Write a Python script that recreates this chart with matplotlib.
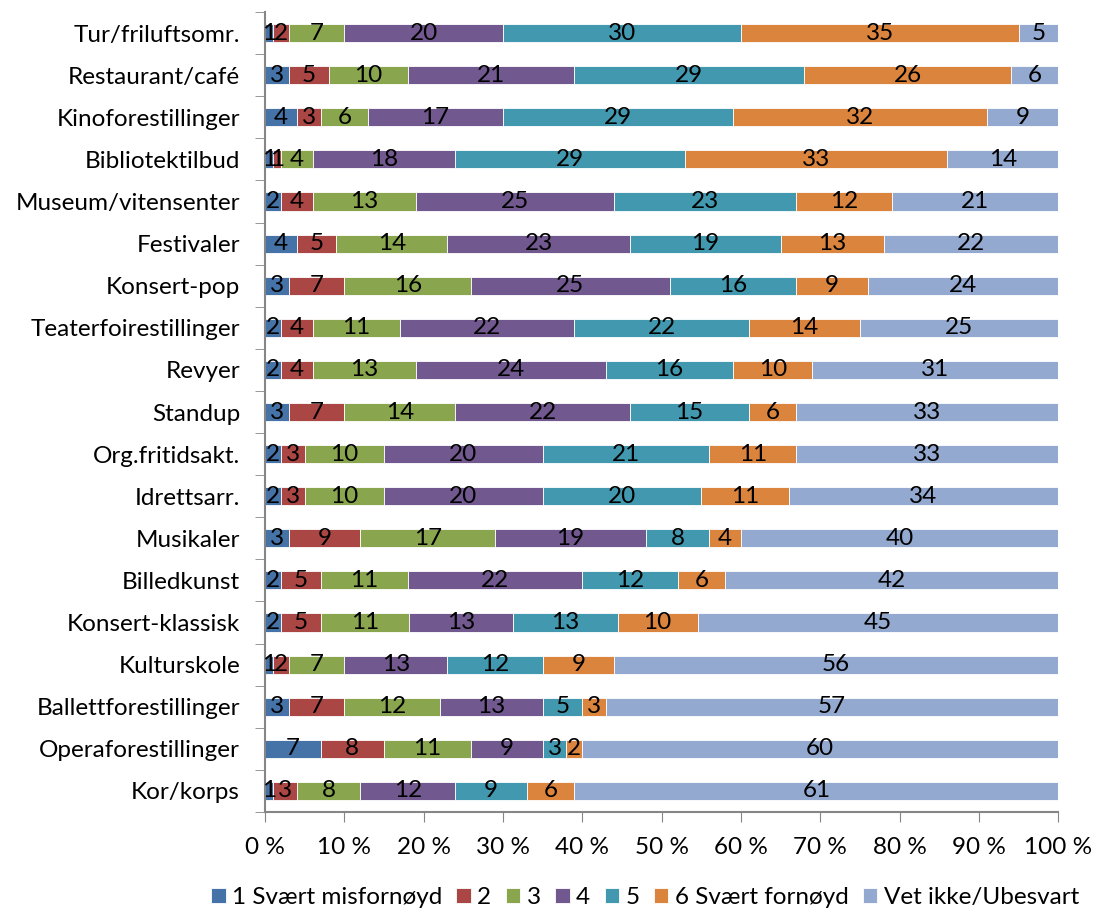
"""
    Satisfaction with cultural offers - 100 % stacked bars
"""
import numpy as np
import matplotlib.pyplot as plt

plt.rcParams['font.family'] = ['Lato', 'DejaVu Sans']

categories = [
    "Tur/friluftsomr.", "Restaurant/café", "Kinoforestillinger", "Bibliotektilbud",
    "Museum/vitensenter", "Festivaler", "Konsert-pop", "Teaterfoirestillinger",
    "Revyer", "Standup", "Org.fritidsakt.", "Idrettsarr.", "Musikaler",
    "Billedkunst", "Konsert-klassisk", "Kulturskole", "Ballettforestillinger",
    "Operaforestillinger", "Kor/korps",
]
series_names = ["1 Svært misfornøyd", "2", "3", "4", "5", "6 Svært fornøyd", "Vet ikke/Ubesvart"]

s1 = [1, 3, 4, 1, 2, 4, 3, 2, 2, 3, 2, 2, 3, 2, 2, 1, 3, 7, 1]
s2 = [2, 5, 3, 1, 4, 5, 7, 4, 4, 7, 3, 3, 9, 5, 5, 2, 7, 8, 3]
s3 = [7, 10, 6, 4, 13, 14, 16, 11, 13, 14, 10, 10, 17, 11, 11, 7, 12, 11, 8]
s4 = [20, 21, 17, 18, 25, 23, 25, 22, 24, 22, 20, 20, 19, 22, 13, 13, 13, 9, 12]
s5 = [30, 29, 29, 29, 23, 19, 16, 22, 16, 15, 21, 20, 8, 12, 13, 12, 5, 3, 9]
s6 = [35, 26, 32, 33, 12, 13, 9, 14, 10, 6, 11, 11, 4, 6, 10, 9, 3, 2, 6]
s7 = [5, 6, 9, 14, 21, 22, 24, 25, 31, 33, 33, 34, 40, 42, 45, 56, 57, 60, 61]

colors = ["#4572A7", "#AA4643", "#89A54E", "#71588F", "#4198AF", "#DB843D", "#93A9CF"]

values = np.array([s1, s2, s3, s4, s5, s6, s7], dtype=float)
shares = values / values.sum(axis=0) * 100

fig = plt.figure(figsize=(10.93, 9.10), dpi=100)
ax = fig.add_axes([0.2425, 0.1077, 0.7257, 0.8791])

y = np.arange(len(categories))
left = np.zeros(len(categories))
for name, share, raw, col in zip(series_names, shares, values, colors):
    bars = ax.barh(y, share, left=left, height=0.43, color=col,
                   edgecolor="white", linewidth=0.6, label=name)
    ax.bar_label(bars, labels=[f"{int(v)}" for v in raw], label_type="center",
                 fontsize=17.5, color="black")
    left += share

ax.set_xlim(0, 100)
ax.set_ylim(len(categories) - 0.5, -0.5)
ax.set_xticks(np.arange(0, 101, 10))
ax.set_xticklabels([f"{v} %" for v in range(0, 101, 10)], fontsize=17.5)
ax.set_yticks(y)
ax.set_yticklabels(categories, fontsize=17.5)
ax.tick_params(axis="y", length=0, pad=18)
ax.set_yticks(np.arange(-0.5, len(categories)), minor=True)
ax.tick_params(axis="y", which="minor", length=7, color="#868686")
ax.tick_params(axis="x", length=7, color="#868686", pad=11)

for side in ["top", "right"]:
    ax.spines[side].set_visible(False)
for side in ["left", "bottom"]:
    ax.spines[side].set_color("#868686")
    ax.spines[side].set_linewidth(1.5)

fig.legend(loc="lower center", bbox_to_anchor=(0.59, -0.022), ncol=7, frameon=False,
           fontsize=17.5, handlelength=0.6, handleheight=0.6, handletextpad=0.25,
           columnspacing=0.6)

fig.savefig("out.png", dpi=100)
